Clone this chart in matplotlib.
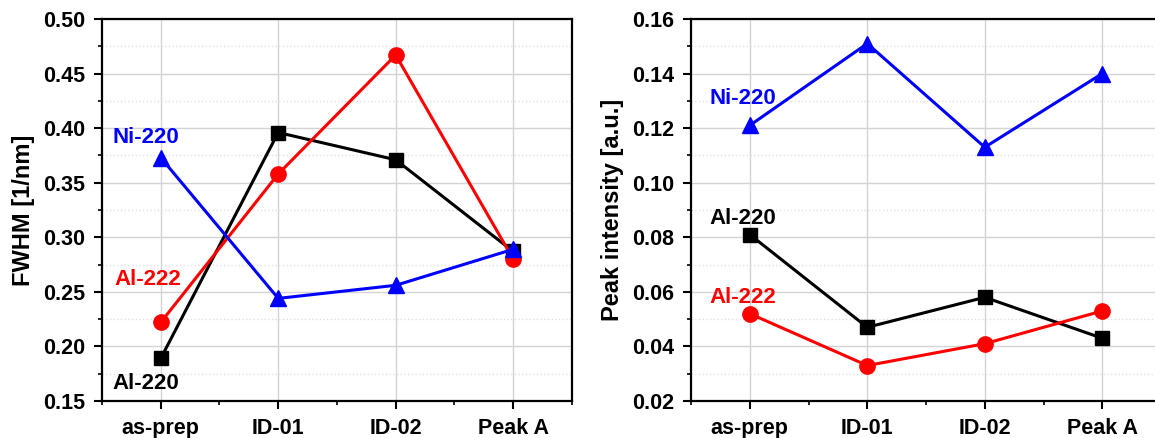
import matplotlib
matplotlib.use('Agg')
import matplotlib.pyplot as plt
from matplotlib.ticker import MultipleLocator, FixedLocator, FormatStrFormatter

plt.rcParams['font.family'] = 'Liberation Sans'
plt.rcParams['font.weight'] = 'bold'

samples = ['as-prep', 'ID-01', 'ID-02', 'Peak A']

# FWHM [1/nm]
fwhm_al220 = [0.189, 0.396, 0.371, 0.287]
fwhm_al222 = [0.222, 0.358, 0.467, 0.280]
fwhm_ni220 = [0.373, 0.244, 0.256, 0.289]

# peak intensity [a.u.]
int_ni220 = [0.121, 0.151, 0.113, 0.140]
int_al220 = [0.081, 0.047, 0.058, 0.043]
int_al222 = [0.052, 0.033, 0.041, 0.053]

fig = plt.figure(figsize=(11.55, 4.38), dpi=100)
ax1 = fig.add_axes([0.0883, 0.0845, 0.4069, 0.8721])
ax2 = fig.add_axes([0.5983, 0.0845, 0.4069, 0.8721])

x = range(len(samples))


def style_axes(ax, ylim, major, ylabel):
    ax.set_xlim(-0.5, 3.5)
    ax.set_ylim(*ylim)
    ax.set_xticks(list(x))
    ax.set_xticklabels(samples)
    ax.xaxis.set_minor_locator(FixedLocator([-0.5, 0.5, 1.5, 2.5, 3.5]))
    ax.yaxis.set_major_locator(MultipleLocator(major))
    ax.yaxis.set_minor_locator(MultipleLocator(major / 2))
    ax.yaxis.set_major_formatter(FormatStrFormatter('%.2f'))
    ax.grid(which='major', color='#d4d4d4', linewidth=1.0)
    ax.grid(which='minor', axis='y', color='#e0e0e0', linestyle=':', linewidth=1.0)
    ax.set_axisbelow(True)
    ax.tick_params(which='major', direction='out', length=6, width=1.5, labelsize=15.5, pad=6)
    ax.tick_params(which='minor', direction='out', length=3, width=1.2)
    for s in ax.spines.values():
        s.set_linewidth(1.6)
    for lab in ax.get_xticklabels() + ax.get_yticklabels():
        lab.set_fontweight('bold')
    ax.set_ylabel(ylabel, fontsize=17, fontweight='bold', labelpad=6)


def add_label(ax, xpos, ypos, text, color):
    ax.text(xpos, ypos, text, color=color, fontsize=16, fontweight='bold',
            ha='center', va='center')


style_axes(ax1, (0.15, 0.50), 0.05, 'FWHM [1/nm]')
ax1.plot(x, fwhm_al220, '-s', color='black', lw=2.2, ms=10, zorder=3)
ax1.plot(x, fwhm_al222, '-o', color='red', lw=2.2, ms=11, zorder=3)
ax1.plot(x, fwhm_ni220, '-^', color='blue', lw=2.2, ms=12, zorder=4)
add_label(ax1, -0.13, 0.391, 'Ni-220', 'blue')
add_label(ax1, -0.11, 0.261, 'Al-222', 'red')
add_label(ax1, -0.13, 0.166, 'Al-220', 'black')

style_axes(ax2, (0.02, 0.16), 0.02, 'Peak intensity [a.u.]')
ax2.plot(x, int_al220, '-s', color='black', lw=2.2, ms=10, zorder=3)
ax2.plot(x, int_al222, '-o', color='red', lw=2.2, ms=11, zorder=3)
ax2.plot(x, int_ni220, '-^', color='blue', lw=2.2, ms=12, zorder=4)
add_label(ax2, -0.06, 0.1307, 'Ni-220', 'blue')
add_label(ax2, -0.06, 0.087, 'Al-220', 'black')
add_label(ax2, -0.06, 0.058, 'Al-222', 'red')

fig.savefig('out.png', dpi=100)
